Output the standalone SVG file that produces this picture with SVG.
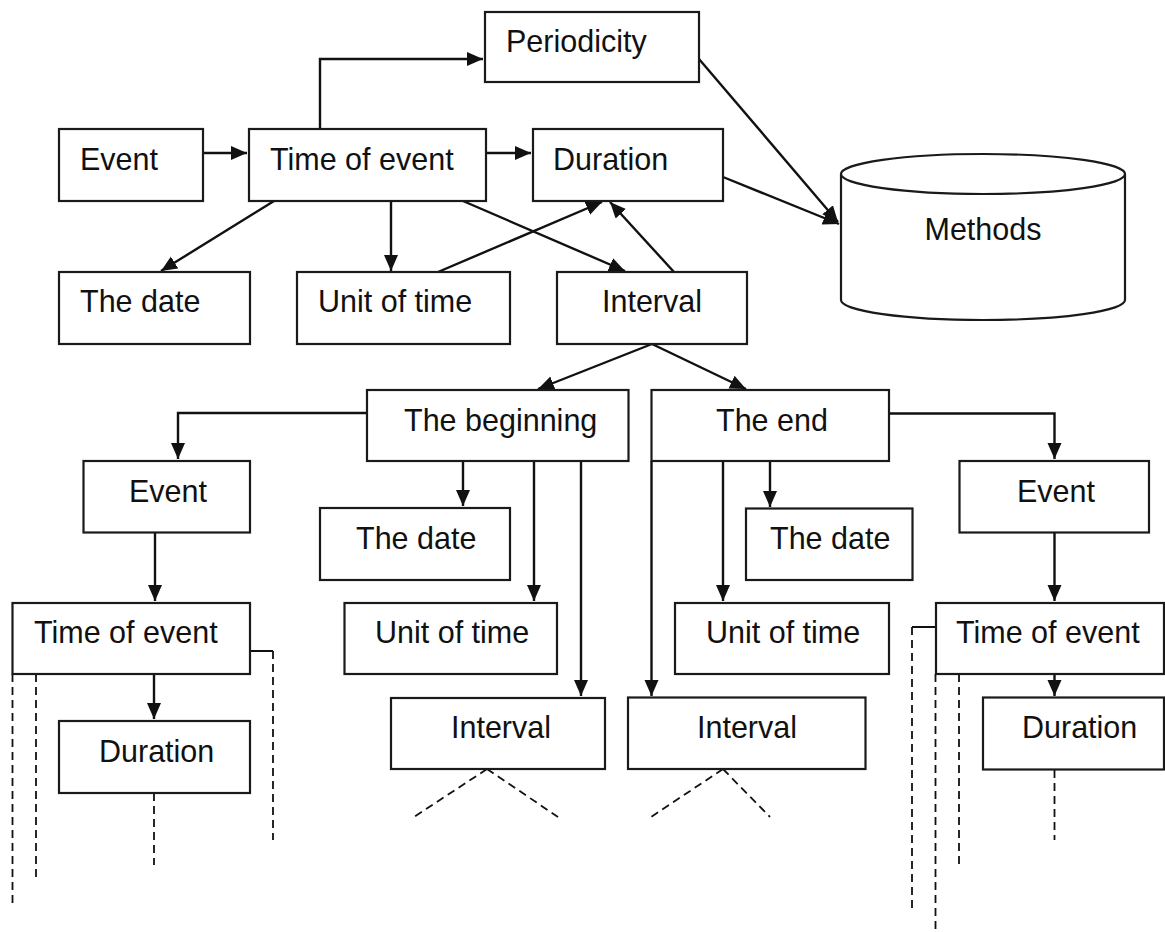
<svg xmlns="http://www.w3.org/2000/svg" width="1165" height="932" viewBox="0 0 1165 932">
<style>
.box{fill:#fff;stroke:#1a1a1a;stroke-width:2.2}
.t{font-family:"Liberation Sans",Arial,sans-serif;font-size:30.5px;fill:#111}
.c{fill:none;stroke:#111;stroke-width:2.4}
.d{fill:none;stroke:#111;stroke-width:1.8;stroke-dasharray:8,5}
</style>
<defs>
<marker id="ah" markerUnits="userSpaceOnUse" markerWidth="17" markerHeight="15" refX="16" refY="7" orient="auto">
<path d="M0,0 L16,7 L0,14 z" fill="#111"/>
</marker>
</defs>
<rect width="1165" height="932" fill="#fff"/>
<g id="connectors">
<path class="c" d="M320,129 V59 H483" marker-end="url(#ah)"/>
<path class="c" d="M203,153 H247" marker-end="url(#ah)"/>
<path class="c" d="M486,153 H531" marker-end="url(#ah)"/>
<path class="c" d="M274,201 L161,271" marker-end="url(#ah)"/>
<path class="c" d="M391,201 V271" marker-end="url(#ah)"/>
<path class="c" d="M463,201 L625,271" marker-end="url(#ah)"/>
<path class="c" d="M438,272 L602,202" marker-end="url(#ah)"/>
<path class="c" d="M674,272 L610,202" marker-end="url(#ah)"/>
<path class="c" d="M723,177 L839,224" marker-end="url(#ah)"/>
<path class="c" d="M699,59 L838,222" marker-end="url(#ah)"/>
<path class="c" d="M652,344 L538,389" marker-end="url(#ah)"/>
<path class="c" d="M652,344 L746,389" marker-end="url(#ah)"/>
<path class="c" d="M367,413 H178 V459" marker-end="url(#ah)"/>
<path class="c" d="M155,532 V601" marker-end="url(#ah)"/>
<path class="c" d="M154,674 V719" marker-end="url(#ah)"/>
<path class="c" d="M463,461 V506" marker-end="url(#ah)"/>
<path class="c" d="M534,461 V601" marker-end="url(#ah)"/>
<path class="c" d="M581,461 V696" marker-end="url(#ah)"/>
<path class="c" d="M651.5,461 V696" marker-end="url(#ah)"/>
<path class="c" d="M723,461 V601" marker-end="url(#ah)"/>
<path class="c" d="M770,461 V507" marker-end="url(#ah)"/>
<path class="c" d="M889,413.5 H1054.5 V459" marker-end="url(#ah)"/>
<path class="c" d="M1054.5,532.5 V601" marker-end="url(#ah)"/>
<path class="c" d="M1054.5,674 V696" marker-end="url(#ah)"/>
<path class="c" style="stroke-width:2" d="M250,651 H273"/>
<path class="c" style="stroke-width:2" d="M935,627 H912"/>
<path class="d" d="M273,651 V840"/>
<path class="d" d="M12.5,674 V907"/>
<path class="d" d="M36,674 V880"/>
<path class="d" d="M154,793 V865"/>
<path class="d" d="M487,769 L414,817"/>
<path class="d" d="M487,769 L558,817"/>
<path class="d" d="M723,769 L651,817"/>
<path class="d" d="M723,769 L770,817"/>
<path class="d" d="M912,627 V912"/>
<path class="d" d="M935.5,674 V932"/>
<path class="d" d="M959,674 V865"/>
<path class="d" d="M1054.5,770 V840"/>
</g>
<g id="periodicity"><rect class="box" x="485" y="12" width="214" height="70"/><text class="t" x="506" y="52">Periodicity</text></g>
<g id="event-top"><rect class="box" x="59" y="129" width="144" height="72"/><text class="t" x="80" y="170">Event</text></g>
<g id="time-of-event-top"><rect class="box" x="249" y="129" width="237" height="72"/><text class="t" x="270" y="170">Time of event</text></g>
<g id="duration-top"><rect class="box" x="533" y="129" width="190" height="72"/><text class="t" x="553" y="170">Duration</text></g>
<g id="methods">
<path class="box" d="M841,174 V300 A142,20 0 0 0 1125,300 V174"/>
<ellipse class="box" cx="983" cy="174" rx="142" ry="20"/>
<text class="t" x="983" y="240" text-anchor="middle">Methods</text>
</g>
<g id="date-top"><rect class="box" x="59" y="272" width="191" height="72"/><text class="t" x="80" y="312">The date</text></g>
<g id="unit-top"><rect class="box" x="297" y="272" width="213" height="72"/><text class="t" x="318" y="312">Unit of time</text></g>
<g id="interval-top"><rect class="box" x="557" y="272" width="190" height="72"/><text class="t" x="652" y="312" text-anchor="middle">Interval</text></g>
<g id="beginning"><rect class="box" x="367" y="390" width="261.5" height="71"/><text class="t" x="404" y="431">The beginning</text></g>
<g id="end"><rect class="box" x="651.5" y="390" width="237.5" height="71"/><text class="t" x="716" y="431">The end</text></g>
<g id="event-left"><rect class="box" x="83.5" y="461" width="166.5" height="71.5"/><text class="t" x="129" y="502">Event</text></g>
<g id="date-mid-left"><rect class="box" x="320" y="508" width="190" height="72"/><text class="t" x="356" y="549">The date</text></g>
<g id="time-left"><rect class="box" x="12.5" y="603" width="237.5" height="71"/><text class="t" x="34" y="643">Time of event</text></g>
<g id="unit-mid-left"><rect class="box" x="344.5" y="603" width="212.5" height="71"/><text class="t" x="375" y="643">Unit of time</text></g>
<g id="duration-left"><rect class="box" x="59" y="721" width="191" height="72"/><text class="t" x="99" y="762">Duration</text></g>
<g id="interval-mid-left"><rect class="box" x="391" y="698" width="214" height="71"/><text class="t" x="451" y="738">Interval</text></g>
<g id="event-right"><rect class="box" x="959.5" y="461" width="189.5" height="71.5"/><text class="t" x="1017" y="502">Event</text></g>
<g id="date-mid-right"><rect class="box" x="746" y="508.5" width="166.5" height="71.5"/><text class="t" x="770" y="549">The date</text></g>
<g id="unit-mid-right"><rect class="box" x="675" y="603" width="214" height="71"/><text class="t" x="706" y="643">Unit of time</text></g>
<g id="time-right"><rect class="box" x="936" y="603" width="228" height="71"/><text class="t" x="956" y="643">Time of event</text></g>
<g id="interval-mid-right"><rect class="box" x="628" y="697.5" width="237.5" height="71.5"/><text class="t" x="697" y="738">Interval</text></g>
<g id="duration-right"><rect class="box" x="983" y="697.5" width="181" height="72"/><text class="t" x="1022" y="738">Duration</text></g>
</svg>
